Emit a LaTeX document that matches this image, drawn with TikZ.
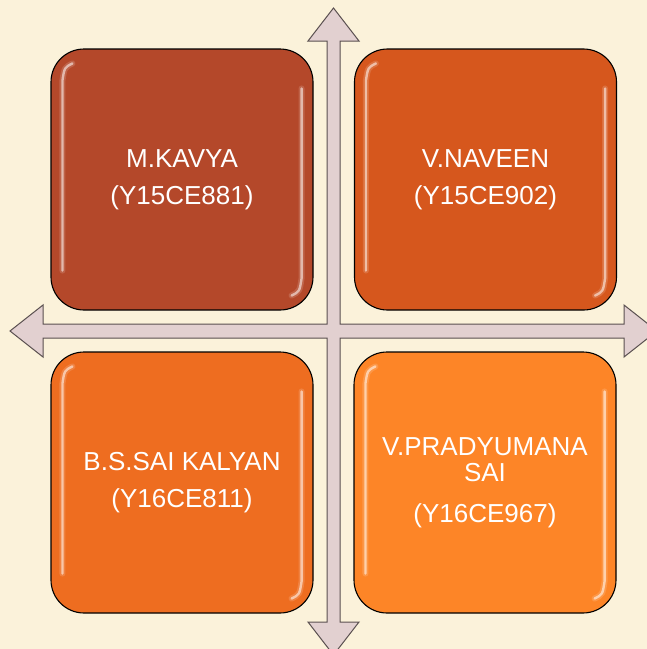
\documentclass[tikz,border=0pt]{standalone}
\usepackage{fontspec}
\setmainfont{Liberation Sans}
\usetikzlibrary{calc}
\definecolor{bgc}{HTML}{FBF2DA}
\definecolor{cone}{HTML}{B4482A}
\definecolor{ctwo}{HTML}{D6571D}
\definecolor{cthree}{HTML}{EE6D20}
\definecolor{cfour}{HTML}{FD8527}
\definecolor{arrowfill}{HTML}{E2D0D0}
\definecolor{arrowline}{HTML}{5A5050}
\begin{document}
\begin{tikzpicture}[x=1pt,y=-1pt,
  box/.style={draw=black, line width=1.1pt, rounded corners=33pt, minimum width=262pt, minimum height=261pt, inner sep=0pt, text=white, align=center, font=\fontsize{26}{26.5}\selectfont},
  gloss/.style={draw=white, line width=2.4pt, line cap=round, opacity=0.55},
  glosswide/.style={draw=white, line width=6pt, line cap=round, opacity=0.15},
  arr/.style={fill=arrowfill, draw=arrowline, line width=1pt, line join=miter}]
\fill[bgc] (0,0) rectangle (647,649);
\useasboundingbox (0,0) rectangle (647,649);
% four-way arrow
\draw[arr] (333.5,8) -- (359,41) -- (340,41) -- (340,324) -- (624,324) -- (624,305) -- (657,331) -- (624,357) -- (624,338) -- (340,338) -- (340,622) -- (359,622) -- (333.5,655) -- (308,622) -- (327,622) -- (327,338) -- (43,338) -- (43,357) -- (10,331) -- (43,305) -- (43,324) -- (327,324) -- (327,41) -- (308,41) -- cycle;
% boxes
\node[box, fill=cone]   (kavya)  at (182,179.5) {M.KAVYA\\[11pt](Y15CE881)};
\node[box, fill=ctwo]   (naveen) at (485.5,179.5) {V.NAVEEN\\[11pt](Y15CE902)};
\node[box, fill=cthree] (kalyan) at (182,482.5) {B.S.SAI KALYAN\\[11pt](Y16CE811)};
\node[box, fill=cfour]  (sai)    at (485,482.5) {V.PRADYUMANA\\SAI\\[14pt](Y16CE967)};
% gloss highlights
\foreach \n in {kavya,naveen,kalyan,sai}{
  \foreach \s in {glosswide,gloss}{
    \draw[\s] ($(\n.north west)+(22,15)$) .. controls ($(\n.north west)+(14,19)$) .. ($(\n.north west)+(12,32)$) -- ($(\n.south west)+(12,-40)$);
    \draw[\s] ($(\n.north east)+(-12,40)$) -- ($(\n.south east)+(-12,-32)$) .. controls ($(\n.south east)+(-14,-19)$) .. ($(\n.south east)+(-22,-15)$);
  }
}
\end{tikzpicture}
\end{document}
